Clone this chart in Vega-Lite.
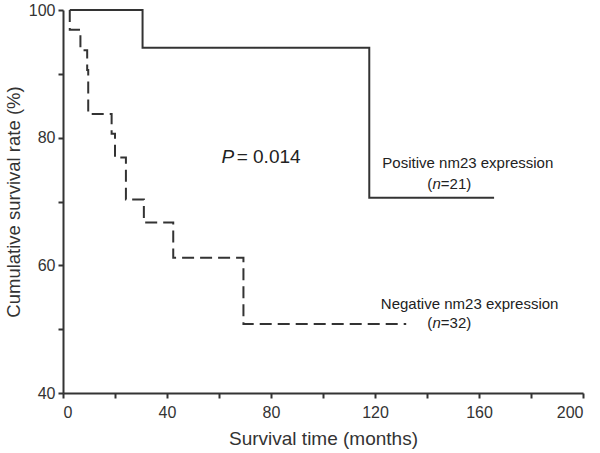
{
  "$schema": "https://vega.github.io/schema/vega-lite/v6.json",
  "width": 520,
  "height": 383,
  "autosize": "none",
  "padding": {"left": 63, "top": 10, "right": 17, "bottom": 60},
  "background": "white",
  "config": {
    "view": {"stroke": null},
    "font": "Liberation Sans",
    "axis": {
      "grid": false,
      "domainColor": "#333333",
      "domainWidth": 2,
      "tickColor": "#333333",
      "tickWidth": 2,
      "tickSize": 5,
      "labelColor": "#333333",
      "labelFont": "Liberation Sans",
      "labelFontSize": 16,
      "titleColor": "#333333",
      "titleFont": "Liberation Sans",
      "titleFontWeight": "normal"
    }
  },
  "datasets": {
    "curves": [
      {"group": "Positive", "i": 0, "month": 2.6, "value": 100},
      {"group": "Positive", "i": 1, "month": 30.6, "value": 94.1},
      {"group": "Positive", "i": 2, "month": 117.8, "value": 70.6},
      {"group": "Positive", "i": 3, "month": 165.8, "value": 70.6},
      {"group": "Negative", "i": 0, "month": 2.6, "value": 100},
      {"group": "Negative", "i": 1, "month": 2.6, "value": 96.9},
      {"group": "Negative", "i": 2, "month": 6.7, "value": 93.7},
      {"group": "Negative", "i": 3, "month": 9.3, "value": 90.6},
      {"group": "Negative", "i": 4, "month": 9.7, "value": 83.7},
      {"group": "Negative", "i": 5, "month": 18.7, "value": 80.6},
      {"group": "Negative", "i": 6, "month": 20.0, "value": 76.9},
      {"group": "Negative", "i": 7, "month": 24.2, "value": 70.3},
      {"group": "Negative", "i": 8, "month": 31.1, "value": 66.7},
      {"group": "Negative", "i": 9, "month": 42.4, "value": 61.2},
      {"group": "Negative", "i": 10, "month": 69.4, "value": 50.8},
      {"group": "Negative", "i": 11, "month": 132, "value": 50.8}
    ],
    "labels": [
      {"kind": "center", "month": 155.7, "value": 76.0, "text": "Positive nm23 expression"},
      {"kind": "center", "month": 156.4, "value": 54.0, "text": "Negative nm23 expression"},
      {"kind": "right", "month": 142.0, "value": 72.8, "text": "("},
      {"kind": "italic", "month": 142.1, "value": 72.8, "text": "n"},
      {"kind": "left", "month": 145.3, "value": 72.8, "text": "=21)"},
      {"kind": "right", "month": 142.0, "value": 50.9, "text": "("},
      {"kind": "italic", "month": 142.1, "value": 50.9, "text": "n"},
      {"kind": "left", "month": 145.3, "value": 50.9, "text": "=32)"},
      {"kind": "pItalic", "month": 61.0, "value": 77.0, "text": "P"},
      {"kind": "pValue", "month": 66.8, "value": 77.0, "text": "= 0.014"}
    ]
  },
  "layer": [
    {
      "data": {"name": "curves"},
      "mark": {"type": "line", "interpolate": "step-after", "strokeWidth": 2, "color": "#333333"},
      "encoding": {
        "x": {
          "field": "month", "type": "quantitative",
          "scale": {"domain": [0, 200], "nice": false, "zero": false},
          "axis": {
            "title": "Survival time (months)",
            "titleFontSize": 19,
            "values": [0, 20, 40, 60, 80, 100, 120, 140, 160, 180, 200],
            "labelExpr": "datum.value % 40 == 0 ? datum.label : ''",
            "labelPadding": 6,
            "titlePadding": 9
          }
        },
        "y": {
          "field": "value", "type": "quantitative",
          "scale": {"domain": [40, 100], "nice": false, "zero": false},
          "axis": {
            "title": "Cumulative survival rate (%)",
            "titleFontSize": 18.5,
            "values": [40, 50, 60, 70, 80, 90, 100],
            "labelExpr": "datum.value % 20 == 0 ? datum.label : ''",
            "labelPadding": 3,
            "titlePadding": 5
          }
        },
        "detail": {"field": "group"},
        "order": {"field": "i", "type": "quantitative"},
        "strokeDash": {
          "field": "group", "type": "nominal",
          "scale": {"domain": ["Positive", "Negative"], "range": [[1, 0], [12, 6]]},
          "legend": null
        }
      }
    },
    {
      "data": {"name": "labels"},
      "transform": [{"filter": "datum.kind == 'center'"}],
      "mark": {"type": "text", "font": "Liberation Sans", "fontSize": 15, "color": "#222222", "baseline": "middle", "align": "center"},
      "encoding": {
        "x": {"field": "month", "type": "quantitative"},
        "y": {"field": "value", "type": "quantitative"},
        "text": {"field": "text"}
      }
    },
    {
      "data": {"name": "labels"},
      "transform": [{"filter": "datum.kind == 'right'"}],
      "mark": {"type": "text", "font": "Liberation Sans", "fontSize": 15, "color": "#222222", "baseline": "middle", "align": "right"},
      "encoding": {
        "x": {"field": "month", "type": "quantitative"},
        "y": {"field": "value", "type": "quantitative"},
        "text": {"field": "text"}
      }
    },
    {
      "data": {"name": "labels"},
      "transform": [{"filter": "datum.kind == 'left'"}],
      "mark": {"type": "text", "font": "Liberation Sans", "fontSize": 15, "color": "#222222", "baseline": "middle", "align": "left"},
      "encoding": {
        "x": {"field": "month", "type": "quantitative"},
        "y": {"field": "value", "type": "quantitative"},
        "text": {"field": "text"}
      }
    },
    {
      "data": {"name": "labels"},
      "transform": [{"filter": "datum.kind == 'italic'"}],
      "mark": {"type": "text", "font": "Liberation Sans", "fontSize": 15, "fontStyle": "italic", "color": "#222222", "baseline": "middle", "align": "left"},
      "encoding": {
        "x": {"field": "month", "type": "quantitative"},
        "y": {"field": "value", "type": "quantitative"},
        "text": {"field": "text"}
      }
    },
    {
      "data": {"name": "labels"},
      "transform": [{"filter": "datum.kind == 'pItalic'"}],
      "mark": {"type": "text", "font": "Liberation Sans", "fontSize": 19, "fontStyle": "italic", "color": "#222222", "baseline": "middle", "align": "left"},
      "encoding": {
        "x": {"field": "month", "type": "quantitative"},
        "y": {"field": "value", "type": "quantitative"},
        "text": {"field": "text"}
      }
    },
    {
      "data": {"name": "labels"},
      "transform": [{"filter": "datum.kind == 'pValue'"}],
      "mark": {"type": "text", "font": "Liberation Sans", "fontSize": 19, "color": "#222222", "baseline": "middle", "align": "left"},
      "encoding": {
        "x": {"field": "month", "type": "quantitative"},
        "y": {"field": "value", "type": "quantitative"},
        "text": {"field": "text"}
      }
    }
  ]
}
